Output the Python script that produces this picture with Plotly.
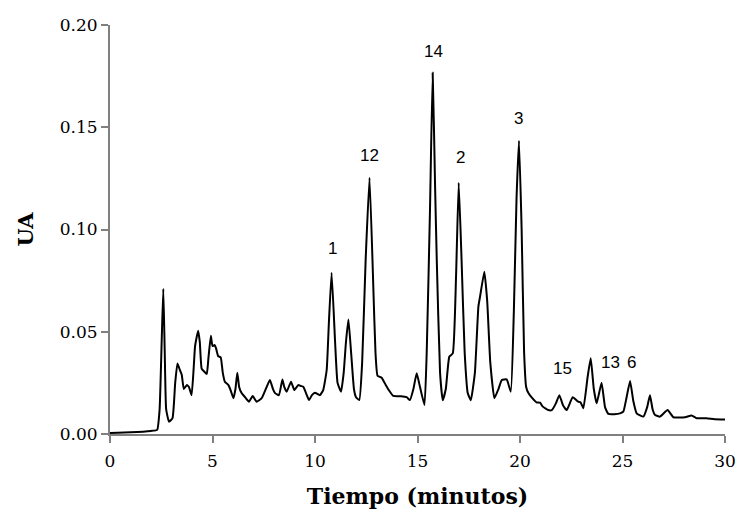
import plotly.graph_objects as go

# Chromatogram trace: retention time (min) and absorbance (UA)
tiempo = [
    0.0, 1.0, 2.0, 2.3, 2.42, 2.52, 2.6, 2.67, 2.74, 2.88, 3.05, 3.18, 3.29, 3.42, 3.5,
    3.6, 3.75, 3.85, 3.98, 4.08, 4.15, 4.3, 4.38, 4.47, 4.6, 4.72, 4.8, 4.92, 5.0, 5.1,
    5.17, 5.28, 5.4, 5.5, 5.6, 5.77, 5.9, 6.02, 6.12, 6.21, 6.3, 6.42, 6.59, 6.78, 6.96,
    7.15, 7.4, 7.6, 7.8, 7.95, 8.05, 8.24, 8.41, 8.5, 8.62, 8.83, 8.99, 9.19, 9.3, 9.43,
    9.6, 9.71, 9.85, 10.0, 10.24, 10.4, 10.57, 10.68, 10.81, 10.98, 11.1, 11.27, 11.4,
    11.51, 11.63, 11.76, 11.9, 12.0, 12.16, 12.3, 12.47, 12.66, 12.85, 12.95, 13.05,
    13.25, 13.45, 13.6, 13.82, 14.2, 14.47, 14.63, 14.8, 14.96, 15.1, 15.34, 15.45,
    15.61, 15.74, 15.86, 15.94, 16.1, 16.23, 16.38, 16.55, 16.72, 16.88, 17.01, 17.15,
    17.3, 17.45, 17.6, 17.8, 17.97, 18.05, 18.26, 18.4, 18.55, 18.75, 18.95, 19.11,
    19.35, 19.55, 19.7, 19.83, 19.95, 20.08, 20.2, 20.3, 20.41, 20.6, 20.8, 20.98, 21.1,
    21.38, 21.55, 21.75, 21.92, 22.1, 22.28, 22.57, 22.84, 22.95, 23.09, 23.3, 23.45,
    23.6, 23.74, 23.98, 24.15, 24.31, 24.6, 24.88, 25.04, 25.2, 25.37, 25.53, 25.69,
    26.02, 26.2, 26.34, 26.47, 26.59, 26.83, 27.2, 27.48, 28.05, 28.37, 28.62, 29.1,
    29.5, 30.0,
]
absorbancia = [
    0.0005, 0.0008, 0.0015, 0.002, 0.012, 0.045, 0.071, 0.040, 0.012, 0.006, 0.0078,
    0.025, 0.0345, 0.031, 0.029, 0.022, 0.024, 0.023, 0.019, 0.032, 0.043, 0.0505, 0.045,
    0.032, 0.0305, 0.0293, 0.037, 0.048, 0.043, 0.0435, 0.042, 0.038, 0.0375, 0.030,
    0.0256, 0.024, 0.021, 0.0175, 0.022, 0.030, 0.023, 0.020, 0.018, 0.0158, 0.0186,
    0.0158, 0.0175, 0.022, 0.0264, 0.022, 0.020, 0.019, 0.0267, 0.023, 0.0207, 0.0256,
    0.0215, 0.024, 0.0235, 0.0231, 0.019, 0.0166, 0.019, 0.0202, 0.019, 0.0215, 0.0313,
    0.055, 0.0789, 0.045, 0.025, 0.0207, 0.030, 0.045, 0.056, 0.040, 0.022, 0.018,
    0.0166, 0.035, 0.085, 0.1253, 0.070, 0.040, 0.0285, 0.0275, 0.024, 0.0215, 0.0186,
    0.0185, 0.018, 0.0166, 0.022, 0.0297, 0.024, 0.0142, 0.040, 0.110, 0.1767, 0.120,
    0.085, 0.030, 0.0165, 0.022, 0.0378, 0.0394, 0.077, 0.1229, 0.085, 0.040, 0.020,
    0.0165, 0.030, 0.0623, 0.0671, 0.0794, 0.065, 0.035, 0.0175, 0.022, 0.0264, 0.0267,
    0.0207, 0.060, 0.115, 0.1434, 0.100, 0.040, 0.023, 0.020, 0.0175, 0.0155, 0.0153,
    0.0135, 0.0117, 0.0117, 0.015, 0.019, 0.014, 0.0117, 0.018, 0.0158, 0.0155, 0.0126,
    0.028, 0.037, 0.022, 0.015, 0.0251, 0.013, 0.0098, 0.0097, 0.0101, 0.0109, 0.018,
    0.0259, 0.016, 0.0101, 0.0085, 0.013, 0.019, 0.012, 0.0093, 0.0085, 0.0117, 0.0082,
    0.0082, 0.0091, 0.0077, 0.0077, 0.0072, 0.0071,
]

# Peak identifiers and where they are written
pico_etiqueta = ["1", "12", "14", "2", "3", "15", "13", "6"]
pico_t = [10.83, 12.68, 15.8, 17.1, 19.95, 22.05, 24.4, 25.46]
pico_y = [0.0905, 0.136, 0.187, 0.135, 0.1545, 0.032, 0.035, 0.035]

x_ticks = [0, 5, 10, 15, 20, 25, 30]
y_ticks = [0.00, 0.05, 0.10, 0.15, 0.20]

SERIF = "DejaVu Serif, Cambria, serif"

fig = go.Figure()
fig.add_trace(go.Scatter(
    x=tiempo, y=absorbancia, mode="lines",
    line=dict(color="black", width=2, shape="spline", smoothing=0.4),
    showlegend=False, hoverinfo="skip",
))

for lab, tx, ty in zip(pico_etiqueta, pico_t, pico_y):
    fig.add_annotation(
        x=tx, y=ty, text=lab, showarrow=False,
        font=dict(family="Liberation Sans, Arial, sans-serif", size=17, color="black"),
    )

axis_common = dict(
    showline=True, linecolor="#808080", linewidth=2,
    ticks="outside", tickcolor="#808080", tickwidth=2, ticklen=7,
    showgrid=False, zeroline=False, automargin=False,
    tickfont=dict(family=SERIF, size=17, color="black"),
)

fig.update_xaxes(
    range=[0, 30], tickvals=x_ticks, ticktext=[str(v) for v in x_ticks],
    ticklabelstandoff=4,
    title=dict(text="<b>Tiempo (minutos)</b>", standoff=18,
               font=dict(family=SERIF, size=22, color="black")),
    **axis_common,
)
fig.update_yaxes(
    range=[0, 0.20], tickvals=y_ticks, ticktext=[f"{v:.2f}" for v in y_ticks],
    title=dict(text="<b>UA</b>", standoff=20,
               font=dict(family=SERIF, size=21, color="black")),
    **axis_common,
)

fig.update_layout(
    width=738, height=517,
    margin=dict(l=110, r=13, t=25, b=83),
    paper_bgcolor="white", plot_bgcolor="white",
)

fig.write_html("out.html")
